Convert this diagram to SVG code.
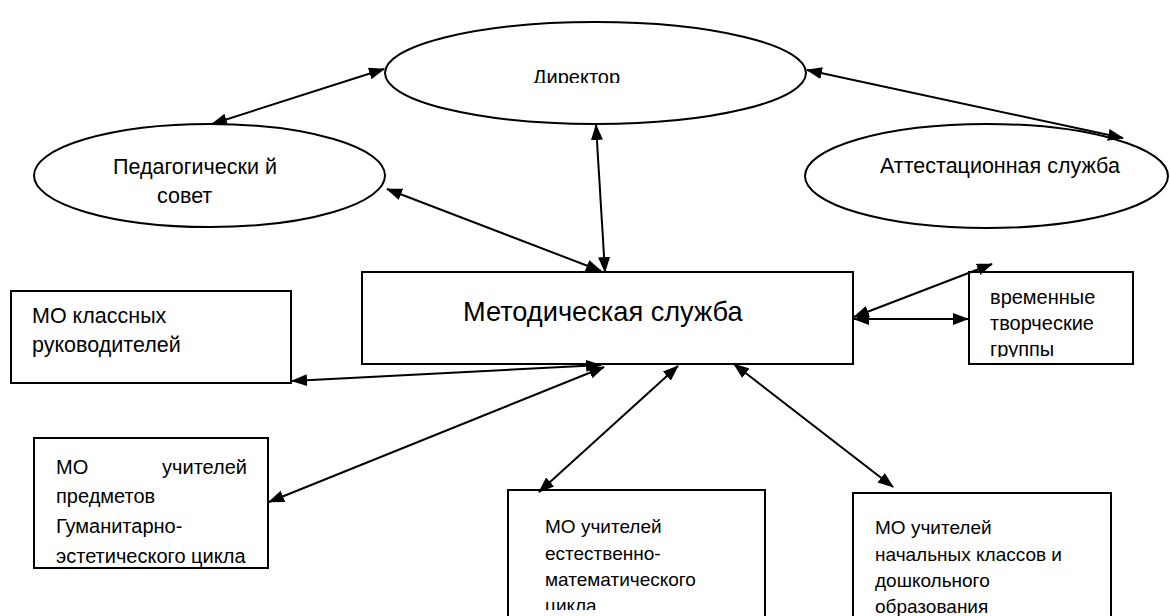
<svg xmlns="http://www.w3.org/2000/svg" width="1170" height="616" viewBox="0 0 1170 616">
<style>
.shape{fill:#fff;stroke:#000;stroke-width:2}
.conn{stroke:#000;stroke-width:2;fill:none;marker-start:url(#ah);marker-end:url(#ah)}
text{font-family:"Liberation Sans",Arial,sans-serif;fill:#000}
.t20{font-size:20px}
.t21{font-size:21.5px}
.t19{font-size:19px}
.t27{font-size:27.2px}
</style>
<defs>
<marker id="ah" markerUnits="userSpaceOnUse" markerWidth="16" markerHeight="13" refX="15" refY="6" orient="auto-start-reverse">
<path d="M0,0 L16,6 L0,12 z" fill="#000"/>
</marker>
<clipPath id="clipDir"><rect x="380" y="20" width="430" height="63"/></clipPath>
<clipPath id="clipGrp"><rect x="969" y="272" width="164" height="85"/></clipPath>
<clipPath id="clipEst"><rect x="508" y="490" width="257" height="120"/></clipPath>
</defs>
<rect width="1170" height="616" fill="#fff"/>

<g id="n-director">
<ellipse class="shape" cx="595.5" cy="73" rx="210.5" ry="51"/>
<text class="t20" x="533" y="84" clip-path="url(#clipDir)">Директор</text>
</g>
<g id="n-pedsovet">
<ellipse class="shape" cx="209.5" cy="175.5" rx="175.5" ry="51.5"/>
<text class="t21" x="113" y="174">Педагогически й</text>
<text class="t21" x="157" y="203">совет</text>
</g>
<g id="n-attest">
<ellipse class="shape" cx="986.5" cy="176" rx="181.5" ry="52"/>
<text class="t21" x="880" y="173">Аттестационная служба</text>
</g>
<g id="n-metod">
<rect class="shape" x="362" y="272" width="491" height="92"/>
<text class="t27" x="463" y="321">Методическая служба</text>
</g>
<g id="n-groups">
<rect class="shape" x="969" y="272" width="164" height="92"/>
<g clip-path="url(#clipGrp)">
<text class="t20" x="990" y="304">временные</text>
<text class="t20" x="990" y="330">творческие</text>
<text class="t20" x="990" y="356">группы</text>
</g>
</g>
<g id="n-klass">
<rect class="shape" x="11" y="291" width="280" height="92"/>
<text class="t21" x="32" y="323">МО классных</text>
<text class="t21" x="32" y="352">руководителей</text>
</g>
<g id="n-gum">
<rect class="shape" x="34" y="438" width="234" height="130"/>
<text class="t20" x="56" y="474">МО</text>
<text class="t20" x="247" y="474" text-anchor="end">учителей</text>
<text class="t20" x="56" y="503">предметов</text>
<text class="t20" x="56" y="533">Гуманитарно-</text>
<text class="t20" x="56" y="563">эстетического цикла</text>
</g>
<g id="n-estmat">
<rect class="shape" x="508" y="490" width="257" height="140"/>
<g clip-path="url(#clipEst)">
<text class="t19" x="545" y="533">МО учителей</text>
<text class="t19" x="545" y="560">естественно-</text>
<text class="t19" x="545" y="586">математического</text>
<text class="t19" x="545" y="612">цикла</text>
</g>
</g>
<g id="n-nach">
<rect class="shape" x="853" y="493" width="258" height="140"/>
<text class="t19" x="875" y="534">МО учителей</text>
<text class="t19" x="875" y="561">начальных классов и</text>
<text class="t19" x="875" y="587">дошкольного</text>
<text class="t19" x="875" y="613">образования</text>
</g>

<g id="connectors">
<line class="conn" x1="212" y1="124" x2="384" y2="69"/>
<line class="conn" x1="807" y1="70" x2="1123" y2="138"/>
<line class="conn" x1="596" y1="125" x2="605" y2="272"/>
<line class="conn" x1="387" y1="189" x2="601" y2="271"/>
<line class="conn" x1="992" y1="264" x2="854" y2="317"/>
<line class="conn" x1="854" y1="319" x2="968" y2="319"/>
<line class="conn" x1="292" y1="381" x2="601" y2="365"/>
<line class="conn" x1="269" y1="502" x2="604" y2="367"/>
<line class="conn" x1="678" y1="366" x2="539" y2="492"/>
<line class="conn" x1="734" y1="364" x2="893" y2="487"/>
</g>
</svg>
